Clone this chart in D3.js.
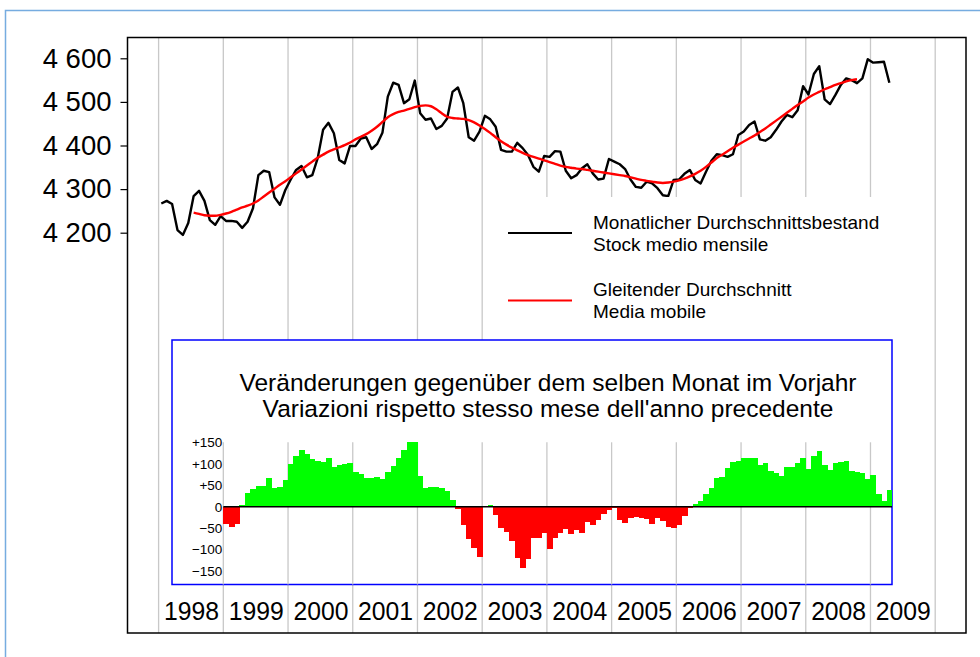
<!DOCTYPE html>
<html>
<head>
<meta charset="utf-8">
<script src="https://cdn.jsdelivr.net/npm/d3@7"></script>
<style>
	body { margin: 0; background: #fff; }
	svg text { font-family: "Liberation Sans", Arial, Helvetica, sans-serif; fill: #000; }
</style>
</head>
<body>
<svg id="chart" width="980" height="657"></svg>
<script>
// year labels on the bottom axis
var years = [1998, 1999, 2000, 2001, 2002, 2003, 2004, 2005, 2006, 2007, 2008, 2009];
var stockTicks = [4200, 4300, 4400, 4500, 4600];
var changeTicks = [150, 100, 50, 0, -50, -100, -150];

// monthly average stock, Jan 1998 - Apr 2009
var stockStart = 1998;
var stock = [
	4267, 4273, 4266, 4206, 4195, 4222, 4284, 4296, 4273, 4229, 4218, 4238,
	4227, 4227, 4225, 4211, 4225, 4256, 4332, 4342, 4339, 4281, 4264, 4298,
	4322, 4344, 4353, 4327, 4332, 4371, 4436, 4452, 4428, 4367, 4359, 4399,
	4399, 4416, 4419, 4392, 4403, 4429, 4512, 4544, 4539, 4497, 4506, 4549,
	4474, 4459, 4462, 4438, 4445, 4462, 4523, 4533, 4497, 4419, 4411, 4432,
	4468, 4460, 4443, 4390, 4386, 4386, 4406, 4394, 4378, 4351, 4340, 4376,
	4374, 4387, 4386, 4342, 4325, 4332, 4348, 4357, 4336, 4322, 4324, 4369,
	4363, 4357, 4346, 4322, 4305, 4303, 4317, 4313, 4302, 4286, 4284, 4321,
	4322, 4335, 4344, 4321, 4313, 4340, 4365, 4380, 4378, 4374, 4380, 4424,
	4432, 4447, 4455, 4414, 4411, 4419, 4436, 4455, 4470, 4465, 4481, 4536,
	4517, 4564, 4582, 4506, 4495, 4516, 4539, 4554, 4550, 4543, 4554, 4598,
	4590, 4591, 4592, 4544
];

// moving average, Jul 1998 - Oct 2008
var avgStart = 1998 + 6 / 12;
var movingAvg = [
	4246, 4243, 4240, 4239, 4239, 4241,
	4244, 4248, 4253, 4258, 4262, 4267, 4274, 4283, 4292, 4301, 4310, 4318,
	4327, 4336, 4345, 4354, 4363, 4372, 4379, 4386, 4391, 4396, 4401, 4407,
	4414, 4420, 4426, 4434, 4443, 4454, 4465, 4472, 4477, 4480, 4484, 4488,
	4491, 4492, 4490, 4483, 4474, 4466, 4463, 4462, 4461, 4458, 4453, 4446,
	4438, 4429, 4419, 4410, 4402, 4395, 4389, 4383, 4378, 4374, 4370, 4366,
	4362, 4358, 4354, 4351, 4349, 4347, 4346, 4344, 4342, 4340, 4338, 4336,
	4334, 4332, 4330, 4327, 4324, 4321, 4319, 4317, 4315, 4314, 4315, 4317,
	4320, 4324, 4329, 4335, 4342, 4351, 4361, 4371, 4379, 4387, 4395, 4402,
	4409, 4416, 4423, 4431, 4439, 4448, 4457, 4466, 4475, 4484, 4493, 4501,
	4510, 4517, 4523, 4529, 4534, 4539, 4543, 4547, 4550, 4552
];

// change against same month of previous year, Jan 1999 - Apr 2009
var changeStart = 1999;
var change = [
	-41, -47, -41, 4, 33, 41, 49, 48, 66, 44, 47, 62,
	99, 118, 131, 122, 110, 107, 103, 113, 92, 96, 99, 101,
	80, 76, 66, 68, 70, 64, 80, 95, 114, 131, 150, 150,
	71, 44, 47, 47, 43, 36, 16, -5, -43, -76, -96, -117,
	-1, 3, -19, -50, -60, -81, -119, -142, -122, -72, -74, -61,
	-99, -74, -61, -52, -64, -54, -61, -35, -43, -30, -17, -8,
	-2, -31, -39, -26, -23, -26, -29, -41, -26, -33, -47, -49,
	-43, -21, -4, 6, 13, 30, 43, 67, 70, 89, 105, 106,
	114, 114, 113, 96, 101, 83, 78, 72, 92, 92, 102, 113,
	87, 117, 130, 96, 85, 101, 105, 106, 84, 81, 78, 64,
	75, 30, 13, 40
];

var legendItems = [
	{ color: "#000000", lines: ["Monatlicher Durchschnittsbestand", "Stock medio mensile"] },
	{ color: "#ff0000", lines: ["Gleitender Durchschnitt", "Media mobile"] }
];
var titleLines = [
	"Veränderungen gegenüber dem selben Monat im Vorjahr",
	"Variazioni rispetto stesso mese dell'anno precedente"
];

var StockChart = (function() {
	"use strict";

	var frame = { left: 127.5, top: 37.5, right: 966, bottom: 633 },
		box = { left: 172, top: 340, right: 892, bottom: 584.5 },
		legendBox = { left: 495, top: 197, right: 905, bottom: 340 },
		gridColor = "#c8c8c8",
		svg,
		x,
		y,
		yc;

	function create() {
		svg = d3.select("#chart");

		x = d3.scaleLinear().domain([1998, 2010]).range([158.6, 935.2]);
		y = d3.scaleLinear().domain([4200, 4600]).range([232.7, 58.3]);
		yc = d3.scaleLinear().domain([-150, 150]).range([571.1, 442.3]);

		// outer light blue border
		svg.append("rect")
			.attr("x", 5.5)
			.attr("y", 10.5)
			.attr("width", 1000)
			.attr("height", 700)
			.attr("fill", "none")
			.attr("stroke", "#76ace0")
			.attr("stroke-width", 1.5);

		// year grid lines through the whole frame
		svg.append("g")
			.selectAll("line")
			.data(d3.range(1998, 2011))
			.enter().append("line")
			.attr("x1", function(d) { return x(d); })
			.attr("x2", function(d) { return x(d); })
			.attr("y1", frame.top)
			.attr("y2", frame.bottom)
			.attr("stroke", gridColor)
			.attr("stroke-width", 1.3);

		drawUpper();
		drawLegend();
		drawLower();

		svg.append("rect")
			.attr("x", frame.left)
			.attr("y", frame.top)
			.attr("width", frame.right - frame.left)
			.attr("height", frame.bottom - frame.top)
			.attr("fill", "none")
			.attr("stroke", "#000")
			.attr("stroke-width", 1.5);

		// year labels
		var xAxis = svg.append("g")
			.attr("transform", "translate(0,598)")
			.call(d3.axisBottom(x)
				.tickValues(years.map(function(d) { return d + 0.5; }))
				.tickSize(0)
				.tickPadding(4)
				.tickFormat(function(d) { return String(Math.floor(d)); }));
		xAxis.select(".domain").remove();
		xAxis.selectAll("text")
			.attr("font-size", 26)
			.attr("textLength", 55)
			.attr("lengthAdjust", "spacingAndGlyphs");
	}

	function drawUpper() {
		var yAxis = svg.append("g")
			.attr("transform", "translate(" + frame.left + ",0)")
			.call(d3.axisLeft(y)
				.tickValues(stockTicks)
				.tickSize(7)
				.tickPadding(9)
				.tickFormat(function(d) { return d3.format(",")(d).replace(",", " "); }));
		yAxis.select(".domain").remove();
		yAxis.selectAll("line").attr("stroke", "#000").attr("stroke-width", 1.2);
		yAxis.selectAll("text").attr("font-size", 27.5);

		var line = d3.line()
			.x(function(d) { return x(d.t); })
			.y(function(d) { return y(d.v); });

		svg.append("path")
			.datum(stock.map(function(v, i) { return { t: stockStart + (i + 0.5) / 12, v: v }; }))
			.attr("d", line)
			.attr("fill", "none")
			.attr("stroke", "#000")
			.attr("stroke-width", 2.4)
			.attr("stroke-linejoin", "round");

		svg.append("path")
			.datum(movingAvg.map(function(v, i) { return { t: avgStart + (i + 0.5) / 12, v: v }; }))
			.attr("d", line.curve(d3.curveMonotoneX))
			.attr("fill", "none")
			.attr("stroke", "#ff0000")
			.attr("stroke-width", 2.4);
	}

	function drawLegend() {
		svg.append("rect")
			.attr("x", legendBox.left)
			.attr("y", legendBox.top)
			.attr("width", legendBox.right - legendBox.left)
			.attr("height", legendBox.bottom - legendBox.top)
			.attr("fill", "#fff");

		var item = svg.append("g")
			.selectAll("g")
			.data(legendItems)
			.enter().append("g")
			.attr("transform", function(d, i) { return "translate(0," + (233 + i * 67.5) + ")"; });

		item.append("line")
			.attr("x1", 508)
			.attr("x2", 572)
			.attr("stroke", function(d) { return d.color; })
			.attr("stroke-width", 1.8);

		item.selectAll("text")
			.data(function(d) { return d.lines; })
			.enter().append("text")
			.attr("x", 593)
			.attr("y", function(d, i) { return i === 0 ? -4.5 : 17.5; })
			.attr("font-size", 19)
			.text(function(d) { return d; });
	}

	function drawLower() {
		var xStep = x(1998 + 1 / 12) - x(1998);

		svg.append("rect")
			.attr("x", box.left)
			.attr("y", box.top)
			.attr("width", box.right - box.left)
			.attr("height", box.bottom - box.top)
			.attr("fill", "#fff")
			.attr("stroke", "#0000ff")
			.attr("stroke-width", 1.5);

		svg.append("g")
			.selectAll("text")
			.data(titleLines)
			.enter().append("text")
			.attr("x", 548)
			.attr("y", function(d, i) { return 390.5 + i * 26.5; })
			.attr("text-anchor", "middle")
			.attr("font-size", 24.5)
			.text(function(d) { return d; });

		svg.append("g")
			.selectAll("line")
			.data(d3.range(1999, 2010))
			.enter().append("line")
			.attr("x1", function(d) { return x(d); })
			.attr("x2", function(d) { return x(d); })
			.attr("y1", yc(150))
			.attr("y2", box.bottom)
			.attr("stroke", gridColor)
			.attr("stroke-width", 1.3);

		svg.append("g")
			.attr("shape-rendering", "crispEdges")
			.selectAll("rect")
			.data(change)
			.enter().append("rect")
			.attr("x", function(d, i) { return x(changeStart + i / 12); })
			.attr("width", xStep + 0.4)
			.attr("y", function(d) { return yc(Math.max(0, d)); })
			.attr("height", function(d) { return Math.abs(yc(d) - yc(0)); })
			.attr("fill", function(d) { return d >= 0 ? "#00ff00" : "#ff0000"; });

		svg.append("line")
			.attr("x1", x(changeStart))
			.attr("x2", box.right)
			.attr("y1", yc(0))
			.attr("y2", yc(0))
			.attr("stroke", "#000")
			.attr("stroke-width", 1.5);

		var cAxis = svg.append("g")
			.attr("transform", "translate(" + (x(changeStart) - 1) + ",0)")
			.call(d3.axisLeft(yc)
				.tickValues(changeTicks)
				.tickSize(0)
				.tickPadding(0)
				.tickFormat(function(d) { return d === 0 ? "0" : d3.format("+")(d); }));
		cAxis.select(".domain").remove();
		cAxis.selectAll("text").attr("font-size", 13.5);
	}

	return {
		create: create
	};
})();

StockChart.create();
</script>
</body>
</html>
